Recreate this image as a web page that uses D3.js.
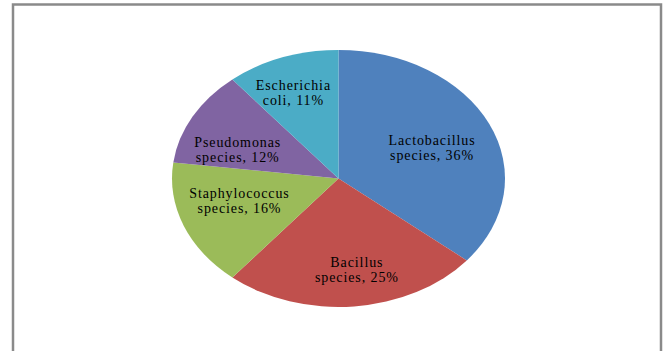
<!DOCTYPE html>
<html><head><meta charset="utf-8">
<script src="https://cdn.jsdelivr.net/npm/d3@7"></script>
<style>
html,body{margin:0;padding:0;background:#fff;}
svg{display:block;}
text{font-family:"Liberation Serif","DejaVu Serif",serif;}
</style></head>
<body>
<svg id="chart" width="668" height="351"></svg>
<script>
const categories = ["Lactobacillus species", "Bacillus species", "Staphylococcus species", "Pseudomonas species", "Escherichia coli"];
const labelLines = [["Lactobacillus", "species, 36%"], ["Bacillus", "species, 25%"], ["Staphylococcus", "species, 16%"], ["Pseudomonas", "species, 12%"], ["Escherichia", "coli, 11%"]];
const values = [36, 25, 16, 12, 11];
const colors = ["#4F81BD", "#C0504D", "#9BBB59", "#8064A2", "#4BACC6"];

// layout
const cx = 338.5, cy = 178.5, rx = 166.5, ry = 128.5;
const labelRadius = [0.61, 0.72, 0.62, 0.645, 0.72];
const labelAngleShift = [0.04, -0.06, 0.09, -0.15, -0.04];

const svg = d3.select("#chart");
svg.append("rect").attr("x", 13).attr("y", 4.5).attr("width", 648).attr("height", 360)
  .attr("fill", "#fff").attr("stroke", "#8a8a8a").attr("stroke-width", 2.5);

const data = categories.map((c, i) => ({name: c, value: values[i], i}));
const pie = d3.pie().value(d => d.value).sort(null).startAngle(0).endAngle(2 * Math.PI);
const arcs = pie(data);
const arc = d3.arc().innerRadius(0).outerRadius(ry);

const g = svg.append("g").attr("transform", `translate(${cx},${cy}) scale(${rx / ry},1)`);
g.selectAll("path").data(arcs).join("path")
  .attr("d", arc).attr("fill", (d, i) => colors[i]);

const lg = svg.append("g");
arcs.forEach((a, i) => {
  const mid = (a.startAngle + a.endAngle) / 2 + labelAngleShift[i];
  const x = cx + rx * labelRadius[i] * Math.sin(mid);
  const y = cy - ry * labelRadius[i] * Math.cos(mid);
  const t = lg.append("text").attr("x", x).attr("y", y - 8 + 5)
    .attr("text-anchor", "middle").attr("font-size", 14)
    .attr("letter-spacing", 0.9).attr("fill", "#000");
  labelLines[i].forEach((ln, k) => {
    t.append("tspan").attr("x", x).attr("dy", k === 0 ? 0 : 15).text(ln);
  });
});
</script>
</body></html>
